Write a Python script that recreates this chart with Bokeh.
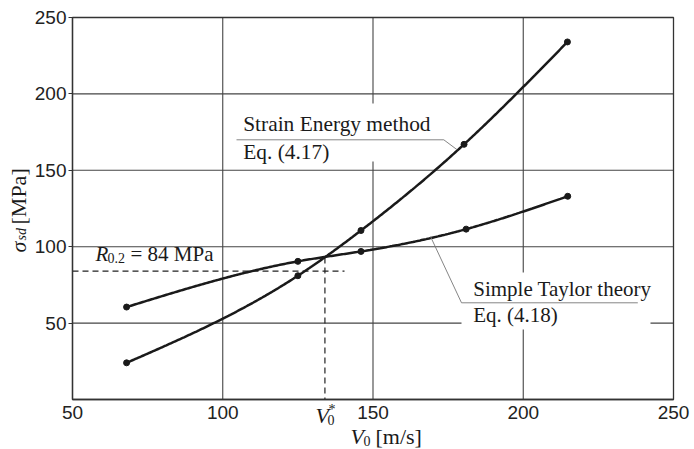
import numpy as np
from math import pi
from bokeh.plotting import figure
from bokeh.models import Label, Range1d, FixedTicker, LinearAxis
from bokeh.embed import file_html
from bokeh.resources import INLINE

# ---- data ----
strain_v = [68, 125, 146, 180.3, 214.7]
strain_s = [24.0, 81.0, 110.6, 167.0, 234.0]
taylor_v = [68, 125, 146, 181, 214.8]
taylor_s = [60.5, 90.4, 96.9, 111.5, 133.0]
r02 = 84
v_star = 134
v_star_sigma = 93
x_ticks = [50, 100, 150, 200, 250]
y_ticks = [50, 100, 150, 200, 250]
x_grid = [100, 150, 200]
y_grid = [50, 100, 150, 200]

W, H = 694, 449
# where the chart box sits on the canvas (pixels)
L, R, T, B = 72, 21, 17, 50
FW, FH = W - L - R, H - T - B
X0, X1, Y0, Y1 = 50, 250, 0, 250


def px(xp):
    return X0 + (xp - L) * (X1 - X0) / FW


def py(yp):
    return Y0 + (T + FH - yp) * (Y1 - Y0) / FH


def smooth(x, y, n=300):
    x = np.asarray(x, float)
    y = np.asarray(y, float)
    k = len(x)
    h = np.diff(x)
    A = np.zeros((k, k))
    b = np.zeros(k)
    A[0, 0] = A[-1, -1] = 1
    for i in range(1, k - 1):
        A[i, i - 1] = h[i - 1]
        A[i, i] = 2 * (h[i - 1] + h[i])
        A[i, i + 1] = h[i]
        b[i] = 6 * ((y[i + 1] - y[i]) / h[i] - (y[i] - y[i - 1]) / h[i - 1])
    M = np.linalg.solve(A, b)
    xs = np.linspace(x[0], x[-1], n)
    ys = np.empty_like(xs)
    for j, xv in enumerate(xs):
        i = int(np.clip(np.searchsorted(x, xv) - 1, 0, k - 2))
        t1 = x[i + 1] - xv
        t0 = xv - x[i]
        hi = h[i]
        ys[j] = (M[i] * t1 ** 3 / (6 * hi) + M[i + 1] * t0 ** 3 / (6 * hi)
                 + (y[i] / hi - M[i] * hi / 6) * t1
                 + (y[i + 1] / hi - M[i + 1] * hi / 6) * t0)
    return xs, ys


p = figure(width=W, height=H, output_backend="svg", toolbar_location=None,
           x_range=Range1d(px(0), px(W)), y_range=Range1d(py(H), py(0)),
           x_axis_location=None, y_axis_location=None,
           min_border_left=0, min_border_right=0, min_border_top=0,
           min_border_bottom=0)
p.background_fill_color = "white"
p.border_fill_color = "white"
p.outline_line_color = None
p.xgrid.visible = False
p.ygrid.visible = False

AX = "#333333"
GRID = "#444444"

# axes fixed at the chart box edges
xax = LinearAxis(fixed_location=Y0, bounds=(X0, X1),
                 ticker=FixedTicker(ticks=x_ticks))
yax = LinearAxis(fixed_location=X0, bounds=(Y0, Y1),
                 ticker=FixedTicker(ticks=y_ticks))
for ax in (xax, yax):
    ax.axis_line_color = AX
    ax.axis_line_width = 1.3
    ax.major_label_text_font = "Liberation Sans"
    ax.major_label_text_font_size = "19px"
    ax.major_label_text_color = "#222222"
    ax.minor_tick_line_color = None
    ax.major_tick_in = 0
    ax.major_tick_line_color = AX
xax.major_tick_out = 0
xax.major_label_standoff = 6
yax.major_tick_out = 4
yax.major_label_standoff = 2
p.add_layout(xax, "below")
p.add_layout(yax, "left")

# grid lines and the top / right edges of the chart box
p.segment(x0=x_grid, y0=Y0, x1=x_grid, y1=Y1, line_color=GRID, line_width=1.1)
p.segment(x0=X0, y0=y_grid, x1=X1, y1=y_grid, line_color=GRID, line_width=1.1)
p.quad(left=[X0], right=[X1], bottom=[Y0], top=[Y1], fill_color=None,
       line_color=AX, line_width=1.3)

# white boxes behind the annotations
p.quad(left=[px(236), px(461)], right=[px(441), px(650)],
       top=[py(103), py(272)], bottom=[py(161), py(329)],
       fill_color="white", line_color=None)

# dashed R0.2 and V0* lines
p.line([X0, px(344)], [r02, r02], line_color="#222222", line_width=1.2,
       line_dash="6 4")
p.line([v_star, v_star], [v_star_sigma, Y0], line_color="#222222",
       line_width=1.2, line_dash="6 4")

# curves
for vx, vy in ((strain_v, strain_s), (taylor_v, taylor_s)):
    xs, ys = smooth(vx, vy)
    p.line(xs, ys, line_color="#1a1a1a", line_width=2.5)
    p.scatter(vx, vy, size=6, fill_color="#1a1a1a", line_color="#1a1a1a")

# leader lines
p.line([px(236), px(443.3), px(456.7)], [py(139.3), py(139.3), py(149.3)],
       line_color="#777777", line_width=0.9)
p.line([px(430), px(461), px(637.3)], [py(236), py(302.3), py(302.3)],
       line_color="#777777", line_width=0.9)

SERIF = "Liberation Serif"
TXT = "#1a1a1a"
SHIFT = 7  # rendered baseline sits this many px below the anchor


def lab(x, y, text, size="21px", style="normal", angle=0.0):
    if angle:
        x = x - SHIFT
    else:
        y = y - SHIFT
    p.add_layout(Label(x=px(x), y=py(y), text=text, text_font=SERIF,
                       text_font_size=size, text_font_style=style,
                       text_color=TXT, text_align="left",
                       text_baseline="alphabetic", angle=angle))


lab(242.7, 130.7, "Strain Energy method", size="21.4px")
lab(242.7, 158.3, "Eq. (4.17)", size="21.4px")
lab(472.7, 295, "Simple Taylor theory")
lab(472.7, 321.7, "Eq. (4.18)")

# R0.2 = 84 MPa
lab(95, 260.5, "R", style="italic")
lab(107, 264, "0.2", size="14px")
lab(130, 260.5, "= 84 MPa")

# V0* under the axis
lab(315, 422, "V", style="italic", size="22px")
lab(327, 426, "0", size="14px")
lab(328, 416, "*", size="14px")

# x axis label
lab(350, 443, "V", style="italic", size="22px")
lab(363, 447, "0", size="14px")
lab(375, 443, "[m/s]", size="22px")

# y axis label (rotated)
lab(25, 252, "σ", style="italic", angle=pi / 2, size="22px")
lab(28, 240, "sd", size="14px", style="italic", angle=pi / 2)
lab(25, 224, "[MPa]", angle=pi / 2, size="22px")

open("out.html", "w").write(file_html(p, INLINE))
